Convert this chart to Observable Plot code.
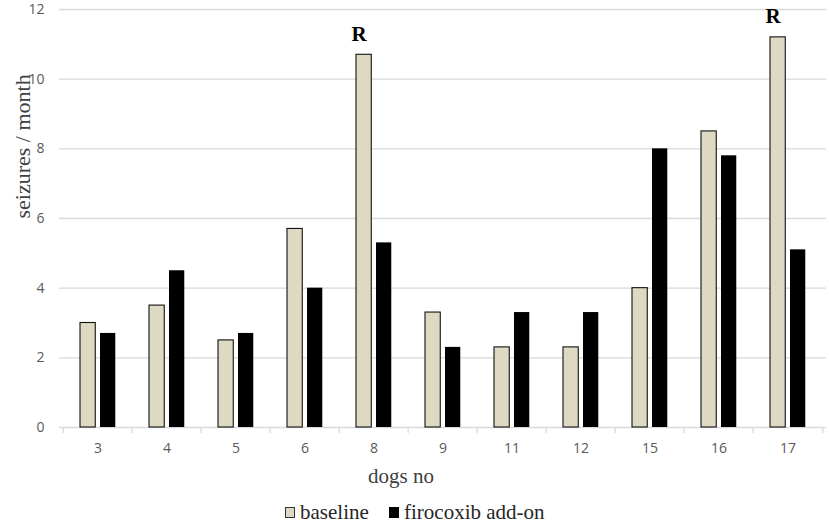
<!DOCTYPE html>
<html>
<head>
<meta charset="utf-8">
<script src="https://cdn.jsdelivr.net/npm/d3@7"></script>
<script src="https://cdn.jsdelivr.net/npm/@observablehq/plot@0.6"></script>
<style>
  body { margin: 0; background: #fff; }
  #legend { height: 34px; position: relative; font-family: "Liberation Serif", "Times New Roman", serif; font-size: 21px; color: #262626; }
  .item { position: absolute; top: 5px; display: flex; align-items: center; }
  .sw { width: 10px; height: 11px; margin-right: 5px; box-sizing: border-box; }
</style>
</head>
<body>
<div id="chart"></div>
<div id="legend">
  <div class="item" style="left:285px"><div class="sw" style="background:#DDD9C3;border:1px solid #333"></div>baseline</div>
  <div class="item" style="left:389px"><div class="sw" style="background:#000"></div>firocoxib add-on</div>
</div>
<script>
const dogs = ["3","4","5","6","8","9","11","12","15","16","17"];
const baseline = [3, 3.5, 2.5, 5.7, 10.7, 3.3, 2.3, 2.3, 4, 8.5, 11.2];
const firocoxib = [2.7, 4.5, 2.7, 4, 5.3, 2.3, 3.3, 3.3, 8, 7.8, 5.1];
const responders = ["8", "17"];
const yTicks = [0, 2, 4, 6, 8, 10, 12];

const W = 829, H = 495, ML = 59, MR = 3, MT = 9, MB = 68;
const bw = (W - ML - MR) / dogs.length;

const rows = dogs.map((d, i) => ({dog: d, baseline: baseline[i], firocoxib: firocoxib[i]}));
const rLabels = rows.filter(r => responders.includes(r.dog));

const chart = Plot.plot({
  width: W, height: H,
  marginLeft: ML, marginRight: MR, marginTop: MT, marginBottom: MB,
  style: {background: "#fff"},
  x: {domain: dogs, padding: 0, label: null},
  y: {domain: [0, 12], label: null},
  marks: [
    Plot.ruleY(yTicks.filter(t => t > 0), {stroke: "#D9D9D9", strokeWidth: 1.3}),
    Plot.ruleY([0], {stroke: "#D9D9D9", strokeWidth: 1.3}),
    Plot.ruleX(dogs, {x: d => d, dx: -bw / 2, y1: 0, y2: 0, insetBottom: -6, stroke: "#D9D9D9", strokeWidth: 1.3}),
    Plot.ruleX(dogs.slice(-1), {x: d => d, dx: bw / 2, y1: 0, y2: 0, insetBottom: -6, stroke: "#D9D9D9", strokeWidth: 1.3}),
    Plot.barY(rows, {x: "dog", y: "baseline", fill: "#DDD9C3", stroke: "#111", strokeWidth: 1.1, insetLeft: 17, insetRight: bw - 33}),
    Plot.barY(rows, {x: "dog", y: "firocoxib", fill: "#000", insetLeft: 37, insetRight: bw - 53}),
    Plot.text(rLabels, {x: "dog", y: "baseline", text: () => "R", dx: -15, dy: -21, fontFamily: "Liberation Serif, Times New Roman, serif", fontWeight: "bold", fontSize: 21, fill: "#000"}),
    Plot.axisY({ticks: yTicks, tickSize: 0, tickPadding: 15, fontSize: 14, color: "#595959", fontFamily: "Open Sans, sans-serif", label: null}),
    Plot.axisX({tickSize: 0, tickPadding: 16, fontSize: 14, color: "#595959", fontFamily: "Open Sans, sans-serif", label: null}),
    Plot.text(["seizures / month"], {frameAnchor: "left", dx: -37, rotate: -90, fontSize: 22, fontFamily: "Liberation Serif, Times New Roman, serif", fill: "#404040"}),
    Plot.text(["dogs no"], {frameAnchor: "bottom", dx: -42, dy: 55, fontSize: 21, fontFamily: "Liberation Serif, Times New Roman, serif", fill: "#404040"})
  ]
});
document.getElementById("chart").appendChild(chart);
</script>
</body>
</html>
